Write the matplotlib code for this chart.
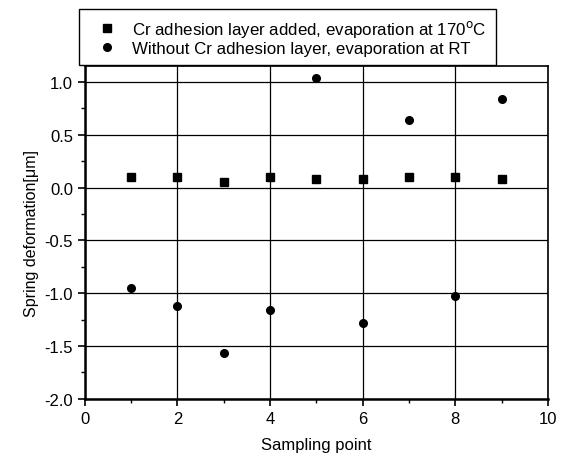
import numpy as np
import matplotlib
matplotlib.use("Agg")
import matplotlib.pyplot as plt
from matplotlib.ticker import MultipleLocator

plt.rcParams['font.family'] = ['Liberation Sans', 'DejaVu Sans']

# data
sample_points = [1, 2, 3, 4, 5, 6, 7, 8, 9]
with_cr = [0.10, 0.10, 0.055, 0.10, 0.08, 0.08, 0.10, 0.10, 0.085]
without_cr = [-0.955, -1.12, -1.57, -1.16, 1.036, -1.277, 0.638, -1.03, 0.837]
label_cr = 'Cr adhesion layer added, evaporation at 170$^{\\rm o}$C'
label_rt = 'Without Cr adhesion layer, evaporation at RT'

fig = plt.figure(figsize=(5.62, 4.56), dpi=100)
ax = fig.add_axes([0.151, 0.123, 0.824, 0.730])

ax.plot(sample_points, with_cr, 's', color='black', markersize=5.5, label=label_cr)
ax.plot(sample_points, without_cr, 'o', color='black', markersize=5.5, label=label_rt)

ax.set_xlim(0, 10)
ax.set_ylim(-2.0, 1.15)
ax.xaxis.set_major_locator(MultipleLocator(2))
ax.xaxis.set_minor_locator(MultipleLocator(1))
ax.yaxis.set_major_locator(MultipleLocator(0.5))
ax.yaxis.set_minor_locator(MultipleLocator(0.25))
ax.yaxis.set_major_formatter(matplotlib.ticker.FormatStrFormatter('%.1f'))

ax.grid(True, which='major', color='black', linewidth=0.9)
ax.tick_params(which='major', direction='out', length=5, width=1.2, labelsize=12, colors='black')
ax.tick_params(which='minor', direction='out', length=3, width=1)
for side in ['left', 'bottom']:
    ax.spines[side].set_linewidth(1.8)
for side in ['right', 'top']:
    ax.spines[side].set_linewidth(1.2)

ax.set_xlabel('Sampling point', fontsize=12, labelpad=8)
ax.set_ylabel('Spring deformation[\u03bcm]', fontsize=11.5, labelpad=4)

leg = fig.legend(loc='upper left', bbox_to_anchor=(79 / 562, 1 - 10 / 456),
                 fontsize=12.2, frameon=True, fancybox=False, edgecolor='black',
                 borderaxespad=0, handletextpad=0.4, borderpad=0.55, labelspacing=0.1,
                 handlelength=2.2, markerscale=1.0)
leg.get_frame().set_linewidth(1.0)
leg.get_frame().set_alpha(1)

fig.savefig('out.png', dpi=100)
